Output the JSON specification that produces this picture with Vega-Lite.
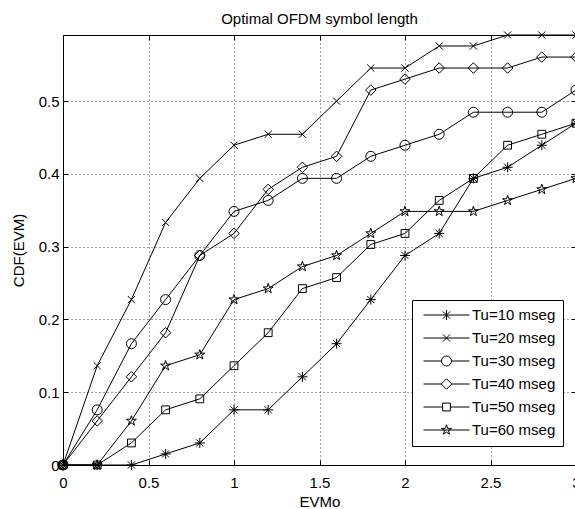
{
  "$schema": "https://vega.github.io/schema/vega-lite/v6.json",
  "width": 513,
  "height": 430,
  "autosize": "none",
  "padding": {"left": 63, "top": 35, "right": 0, "bottom": 44},
  "config": {
    "font": "Liberation Sans",
    "view": {"stroke": "black", "strokeWidth": 1},
    "axis": {
      "grid": true, "gridColor": "black", "gridDash": [1, 3], "gridOpacity": 0.75, "gridWidth": 1,
      "domainColor": "black", "domainWidth": 1, "tickColor": "black", "tickSize": -5, "tickWidth": 1,
      "labelFontSize": 15, "labelColor": "black", "labelFlush": false, "labelOverlap": false, "labelBound": false,
      "titleFontSize": 15, "titleFontWeight": "normal", "titleColor": "black"
    },
    "legend": {
      "orient": "none", "legendX": 349, "legendY": 265,
      "fillColor": "white", "strokeColor": "black", "padding": 7.5, "cornerRadius": 0,
      "labelFontSize": 15, "labelColor": "black", "symbolSize": 100, "symbolOpacity": 1,
      "symbolFillColor": "transparent", "symbolStrokeColor": "black", "symbolStrokeWidth": 1,
      "symbolOffset": 19.5, "labelOffset": 18, "rowPadding": 7
    }
  },
  "title": {
    "text": "Optimal OFDM symbol length", "fontSize": 15, "fontWeight": "normal", "color": "black",
    "baseline": "alphabetic", "offset": -10, "anchor": "middle", "frame": "group"
  },
  "data": {
    "values": [
      {"x": 0, "y": 0, "s": "Tu=10 mseg"}, {"x": 0.2, "y": 0, "s": "Tu=10 mseg"}, {"x": 0.4, "y": 0, "s": "Tu=10 mseg"}, {"x": 0.6, "y": 0.0152, "s": "Tu=10 mseg"},
      {"x": 0.8, "y": 0.0303, "s": "Tu=10 mseg"}, {"x": 1.0, "y": 0.0758, "s": "Tu=10 mseg"}, {"x": 1.2, "y": 0.0758, "s": "Tu=10 mseg"}, {"x": 1.4, "y": 0.1212, "s": "Tu=10 mseg"},
      {"x": 1.6, "y": 0.1667, "s": "Tu=10 mseg"}, {"x": 1.8, "y": 0.2273, "s": "Tu=10 mseg"}, {"x": 2.0, "y": 0.2879, "s": "Tu=10 mseg"}, {"x": 2.2, "y": 0.3182, "s": "Tu=10 mseg"},
      {"x": 2.4, "y": 0.3939, "s": "Tu=10 mseg"}, {"x": 2.6, "y": 0.4091, "s": "Tu=10 mseg"}, {"x": 2.8, "y": 0.4394, "s": "Tu=10 mseg"}, {"x": 3.0, "y": 0.4697, "s": "Tu=10 mseg"},

      {"x": 0, "y": 0, "s": "Tu=20 mseg"}, {"x": 0.2, "y": 0.1364, "s": "Tu=20 mseg"}, {"x": 0.4, "y": 0.2273, "s": "Tu=20 mseg"}, {"x": 0.6, "y": 0.3333, "s": "Tu=20 mseg"},
      {"x": 0.8, "y": 0.3939, "s": "Tu=20 mseg"}, {"x": 1.0, "y": 0.4394, "s": "Tu=20 mseg"}, {"x": 1.2, "y": 0.4545, "s": "Tu=20 mseg"}, {"x": 1.4, "y": 0.4545, "s": "Tu=20 mseg"},
      {"x": 1.6, "y": 0.5, "s": "Tu=20 mseg"}, {"x": 1.8, "y": 0.5455, "s": "Tu=20 mseg"}, {"x": 2.0, "y": 0.5455, "s": "Tu=20 mseg"}, {"x": 2.2, "y": 0.5758, "s": "Tu=20 mseg"},
      {"x": 2.4, "y": 0.5758, "s": "Tu=20 mseg"}, {"x": 2.6, "y": 0.5909, "s": "Tu=20 mseg"}, {"x": 2.8, "y": 0.5909, "s": "Tu=20 mseg"}, {"x": 3.0, "y": 0.5909, "s": "Tu=20 mseg"},

      {"x": 0, "y": 0, "s": "Tu=30 mseg"}, {"x": 0.2, "y": 0.0758, "s": "Tu=30 mseg"}, {"x": 0.4, "y": 0.1667, "s": "Tu=30 mseg"}, {"x": 0.6, "y": 0.2273, "s": "Tu=30 mseg"},
      {"x": 0.8, "y": 0.2879, "s": "Tu=30 mseg"}, {"x": 1.0, "y": 0.3485, "s": "Tu=30 mseg"}, {"x": 1.2, "y": 0.3636, "s": "Tu=30 mseg"}, {"x": 1.4, "y": 0.3939, "s": "Tu=30 mseg"},
      {"x": 1.6, "y": 0.3939, "s": "Tu=30 mseg"}, {"x": 1.8, "y": 0.4242, "s": "Tu=30 mseg"}, {"x": 2.0, "y": 0.4394, "s": "Tu=30 mseg"}, {"x": 2.2, "y": 0.4545, "s": "Tu=30 mseg"},
      {"x": 2.4, "y": 0.4848, "s": "Tu=30 mseg"}, {"x": 2.6, "y": 0.4848, "s": "Tu=30 mseg"}, {"x": 2.8, "y": 0.4848, "s": "Tu=30 mseg"}, {"x": 3.0, "y": 0.5152, "s": "Tu=30 mseg"},

      {"x": 0, "y": 0, "s": "Tu=40 mseg"}, {"x": 0.2, "y": 0.0606, "s": "Tu=40 mseg"}, {"x": 0.4, "y": 0.1212, "s": "Tu=40 mseg"}, {"x": 0.6, "y": 0.1818, "s": "Tu=40 mseg"},
      {"x": 0.8, "y": 0.2879, "s": "Tu=40 mseg"}, {"x": 1.0, "y": 0.3182, "s": "Tu=40 mseg"}, {"x": 1.2, "y": 0.3788, "s": "Tu=40 mseg"}, {"x": 1.4, "y": 0.4091, "s": "Tu=40 mseg"},
      {"x": 1.6, "y": 0.4242, "s": "Tu=40 mseg"}, {"x": 1.8, "y": 0.5152, "s": "Tu=40 mseg"}, {"x": 2.0, "y": 0.5303, "s": "Tu=40 mseg"}, {"x": 2.2, "y": 0.5455, "s": "Tu=40 mseg"},
      {"x": 2.4, "y": 0.5455, "s": "Tu=40 mseg"}, {"x": 2.6, "y": 0.5455, "s": "Tu=40 mseg"}, {"x": 2.8, "y": 0.5606, "s": "Tu=40 mseg"}, {"x": 3.0, "y": 0.5606, "s": "Tu=40 mseg"},

      {"x": 0, "y": 0, "s": "Tu=50 mseg"}, {"x": 0.2, "y": 0, "s": "Tu=50 mseg"}, {"x": 0.4, "y": 0.0303, "s": "Tu=50 mseg"}, {"x": 0.6, "y": 0.0758, "s": "Tu=50 mseg"},
      {"x": 0.8, "y": 0.0909, "s": "Tu=50 mseg"}, {"x": 1.0, "y": 0.1364, "s": "Tu=50 mseg"}, {"x": 1.2, "y": 0.1818, "s": "Tu=50 mseg"}, {"x": 1.4, "y": 0.2424, "s": "Tu=50 mseg"},
      {"x": 1.6, "y": 0.2576, "s": "Tu=50 mseg"}, {"x": 1.8, "y": 0.3030, "s": "Tu=50 mseg"}, {"x": 2.0, "y": 0.3182, "s": "Tu=50 mseg"}, {"x": 2.2, "y": 0.3636, "s": "Tu=50 mseg"},
      {"x": 2.4, "y": 0.3939, "s": "Tu=50 mseg"}, {"x": 2.6, "y": 0.4394, "s": "Tu=50 mseg"}, {"x": 2.8, "y": 0.4545, "s": "Tu=50 mseg"}, {"x": 3.0, "y": 0.4697, "s": "Tu=50 mseg"},

      {"x": 0, "y": 0, "s": "Tu=60 mseg"}, {"x": 0.2, "y": 0, "s": "Tu=60 mseg"}, {"x": 0.4, "y": 0.0606, "s": "Tu=60 mseg"}, {"x": 0.6, "y": 0.1364, "s": "Tu=60 mseg"},
      {"x": 0.8, "y": 0.1515, "s": "Tu=60 mseg"}, {"x": 1.0, "y": 0.2273, "s": "Tu=60 mseg"}, {"x": 1.2, "y": 0.2424, "s": "Tu=60 mseg"}, {"x": 1.4, "y": 0.2727, "s": "Tu=60 mseg"},
      {"x": 1.6, "y": 0.2879, "s": "Tu=60 mseg"}, {"x": 1.8, "y": 0.3182, "s": "Tu=60 mseg"}, {"x": 2.0, "y": 0.3485, "s": "Tu=60 mseg"}, {"x": 2.2, "y": 0.3485, "s": "Tu=60 mseg"},
      {"x": 2.4, "y": 0.3485, "s": "Tu=60 mseg"}, {"x": 2.6, "y": 0.3636, "s": "Tu=60 mseg"}, {"x": 2.8, "y": 0.3788, "s": "Tu=60 mseg"}, {"x": 3.0, "y": 0.3939, "s": "Tu=60 mseg"}
    ]
  },
  "layer": [
    {
      "mark": {"type": "line", "stroke": "black", "strokeWidth": 1},
      "encoding": {
        "x": {"field": "x", "type": "quantitative", "scale": {"domain": [0, 3], "nice": false, "zero": false},
              "axis": {"orient": "bottom", "values": [0, 0.5, 1, 1.5, 2, 2.5, 3], "format": "~g", "title": "EVMo",
                       "labelPadding": 15, "titleBaseline": "alphabetic", "titlePadding": 16}},
        "y": {"field": "y", "type": "quantitative", "scale": {"domain": [0, 0.5909], "nice": false, "zero": false},
              "axis": {"orient": "left", "values": [0, 0.1, 0.2, 0.3, 0.4, 0.5], "format": "~g", "title": "CDF(EVM)",
                       "labelPadding": 9, "titlePadding": 12}},
        "detail": {"field": "s", "type": "nominal"}
      }
    },
    {
      "mark": {"type": "point", "filled": false, "stroke": "black", "strokeWidth": 1, "size": 100, "opacity": 1},
      "encoding": {
        "x": {"field": "x", "type": "quantitative", "scale": {"domain": [0, 3], "nice": false, "zero": false}, "axis": null},
        "y": {"field": "y", "type": "quantitative", "scale": {"domain": [0, 0.5909], "nice": false, "zero": false}, "axis": null},
        "shape": {
          "field": "s", "type": "nominal",
          "scale": {
            "domain": ["Tu=10 mseg", "Tu=20 mseg", "Tu=30 mseg", "Tu=40 mseg", "Tu=50 mseg", "Tu=60 mseg"],
            "range": [
              "M-1,0L1,0M0,-1L0,1M-0.72,-0.72L0.72,0.72M-0.72,0.72L0.72,-0.72",
              "M-0.72,-0.72L0.72,0.72M-0.72,0.72L0.72,-0.72",
              "M1,0A1,1,0,1,1,-1,0A1,1,0,1,1,1,0Z",
              "M0,-1.05L1.05,0L0,1.05L-1.05,0Z",
              "M-0.78,-0.78L0.78,-0.78L0.78,0.78L-0.78,0.78Z",
              "M0,-1.05L0.236,-0.324L0.999,-0.324L0.382,0.124L0.617,0.85L0,0.401L-0.617,0.85L-0.382,0.124L-0.999,-0.324L-0.236,-0.324Z"
            ]
          },
          "legend": null
        }
      }
    },
    {
      "transform": [{"filter": "datum.x < 0"}],
      "mark": {"type": "point", "filled": false, "stroke": "black", "strokeWidth": 1, "size": 100, "opacity": 1},
      "encoding": {
        "shape": {
          "field": "s", "type": "nominal",
          "scale": {
            "domain": ["Tu=10 mseg", "Tu=20 mseg", "Tu=30 mseg", "Tu=40 mseg", "Tu=50 mseg", "Tu=60 mseg"],
            "range": [
              "M-4.6,0L4.6,0M0,-1L0,1M-0.72,-0.72L0.72,0.72M-0.72,0.72L0.72,-0.72",
              "M-4.6,0L4.6,0M-0.72,-0.72L0.72,0.72M-0.72,0.72L0.72,-0.72",
              "M-4.6,0L-1,0M1,0L4.6,0M1,0A1,1,0,1,1,-1,0A1,1,0,1,1,1,0Z",
              "M-4.6,0L-1.05,0M1.05,0L4.6,0M0,-1.05L1.05,0L0,1.05L-1.05,0Z",
              "M-4.6,0L-0.78,0M0.78,0L4.6,0M-0.78,-0.78L0.78,-0.78L0.78,0.78L-0.78,0.78Z",
              "M-4.6,0L4.6,0M0,-1.05L0.236,-0.324L0.999,-0.324L0.382,0.124L0.617,0.85L0,0.401L-0.617,0.85L-0.382,0.124L-0.999,-0.324L-0.236,-0.324Z"
            ]
          },
          "legend": {"title": null}
        }
      }
    },
    {
      "mark": {"type": "point", "opacity": 0},
      "encoding": {
        "x": {"field": "x", "type": "quantitative", "scale": {"domain": [0, 3], "nice": false, "zero": false},
              "axis": {"orient": "top", "values": [0, 0.5, 1, 1.5, 2, 2.5, 3], "labels": false, "grid": false, "title": null}},
        "y": {"field": "y", "type": "quantitative", "scale": {"domain": [0, 0.5909], "nice": false, "zero": false},
              "axis": {"orient": "right", "values": [0, 0.1, 0.2, 0.3, 0.4, 0.5], "labels": false, "grid": false, "title": null}}
      }
    }
  ],
  "resolve": {"axis": {"x": "independent", "y": "independent"}, "scale": {"shape": "independent"}}
}
